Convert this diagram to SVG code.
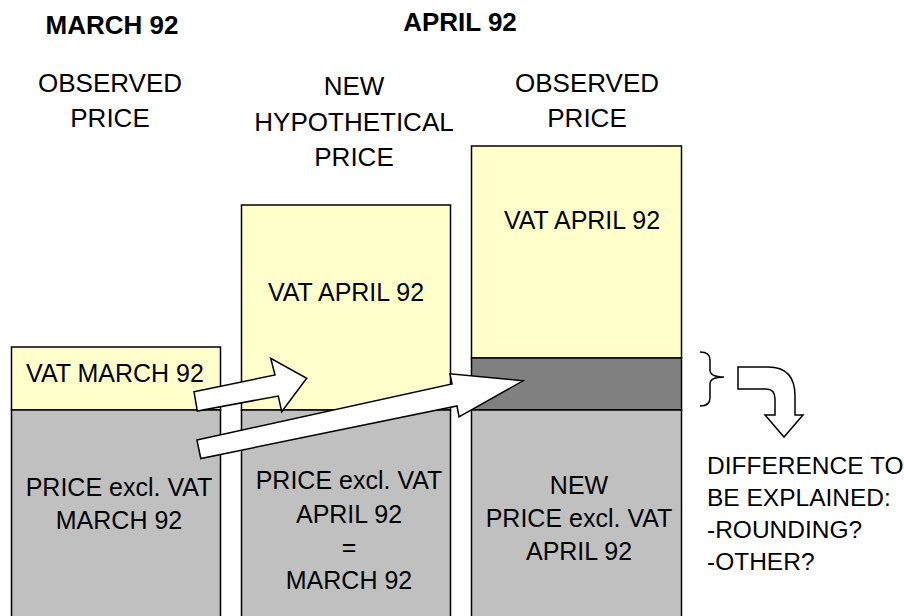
<svg xmlns="http://www.w3.org/2000/svg" width="904" height="616" viewBox="0 0 904 616">
<style>
text{font-family:"Liberation Sans",Arial,sans-serif;fill:#000}
.h{font-size:26px;text-anchor:middle}
.hb{font-size:26px;font-weight:bold;text-anchor:middle}
.t{font-size:25px;text-anchor:middle}
.r{font-size:24.5px}
.vat{fill:#ffffcc;stroke:#000;stroke-width:1.5}
.ex{fill:#c0c0c0;stroke:#000;stroke-width:1.5}
.dif{fill:#808080;stroke:#000;stroke-width:1.5}
.arw{fill:#fff;stroke:#000;stroke-width:1.5;stroke-linejoin:miter}
.br{fill:none;stroke:#000;stroke-width:1.5}
</style>
<g id="headers">
<text class="hb" x="112" y="34">MARCH 92</text>
<text class="hb" x="460" y="31">APRIL 92</text>
<text class="h" x="110" y="92">OBSERVED</text>
<text class="h" x="110" y="127">PRICE</text>
<text class="h" x="354" y="95">NEW</text>
<text class="h" x="354" y="131">HYPOTHETICAL</text>
<text class="h" x="354" y="166">PRICE</text>
<text class="h" x="587" y="92">OBSERVED</text>
<text class="h" x="587" y="127">PRICE</text>
</g>
<g id="col1">
<rect class="vat" x="11.5" y="347" width="209" height="63"/>
<rect class="ex" x="11.5" y="410" width="209" height="215"/>
<text class="t" x="115" y="382">VAT MARCH 92</text>
<text class="t" x="119" y="496">PRICE excl. VAT</text>
<text class="t" x="119" y="529">MARCH 92</text>
</g>
<g id="col2">
<rect class="vat" x="241.5" y="205" width="209" height="205"/>
<rect class="ex" x="241.5" y="410" width="209" height="215"/>
<text class="t" x="346" y="301">VAT APRIL 92</text>
<text class="t" x="349" y="489">PRICE excl. VAT</text>
<text class="t" x="349" y="523">APRIL 92</text>
<text class="t" x="349" y="556">=</text>
<text class="t" x="349" y="589">MARCH 92</text>
</g>
<g id="col3">
<rect class="vat" x="471.5" y="146" width="210" height="212"/>
<rect class="dif" x="471.5" y="358" width="210" height="52"/>
<rect class="ex" x="471.5" y="410" width="210" height="215"/>
<text class="t" x="582" y="229">VAT APRIL 92</text>
<text class="t" x="579" y="494">NEW</text>
<text class="t" x="579" y="527">PRICE excl. VAT</text>
<text class="t" x="579" y="560">APRIL 92</text>
</g>
<g id="connectors">
<polygon class="arw" points="194,391.7 275,375 270.7,358.3 306.7,378.3 281.7,411.7 278.3,396 197.3,411"/>
<polygon class="arw" points="196.9,440 452,384 450,373.8 523,380.8 459,416.8 457,406 200.8,458.5"/>
<path class="br" d="M700,352 Q710,352 710,360 L710,370 Q710,377 724,377 Q710,377 710,384 L710,398 Q710,406 700,406"/>
<path class="arw" d="M738,367 L768,367 Q795,367 795,396 L795,415 L803,415 L784,437 L765,415 L775,415 L775,399 Q775,389 766,389 L738,389 Z"/>
</g>
<g id="note">
<text class="r" x="707" y="474">DIFFERENCE TO</text>
<text class="r" x="707" y="506">BE EXPLAINED:</text>
<text class="r" x="707" y="538">-ROUNDING?</text>
<text class="r" x="707" y="570">-OTHER?</text>
</g>
</svg>
